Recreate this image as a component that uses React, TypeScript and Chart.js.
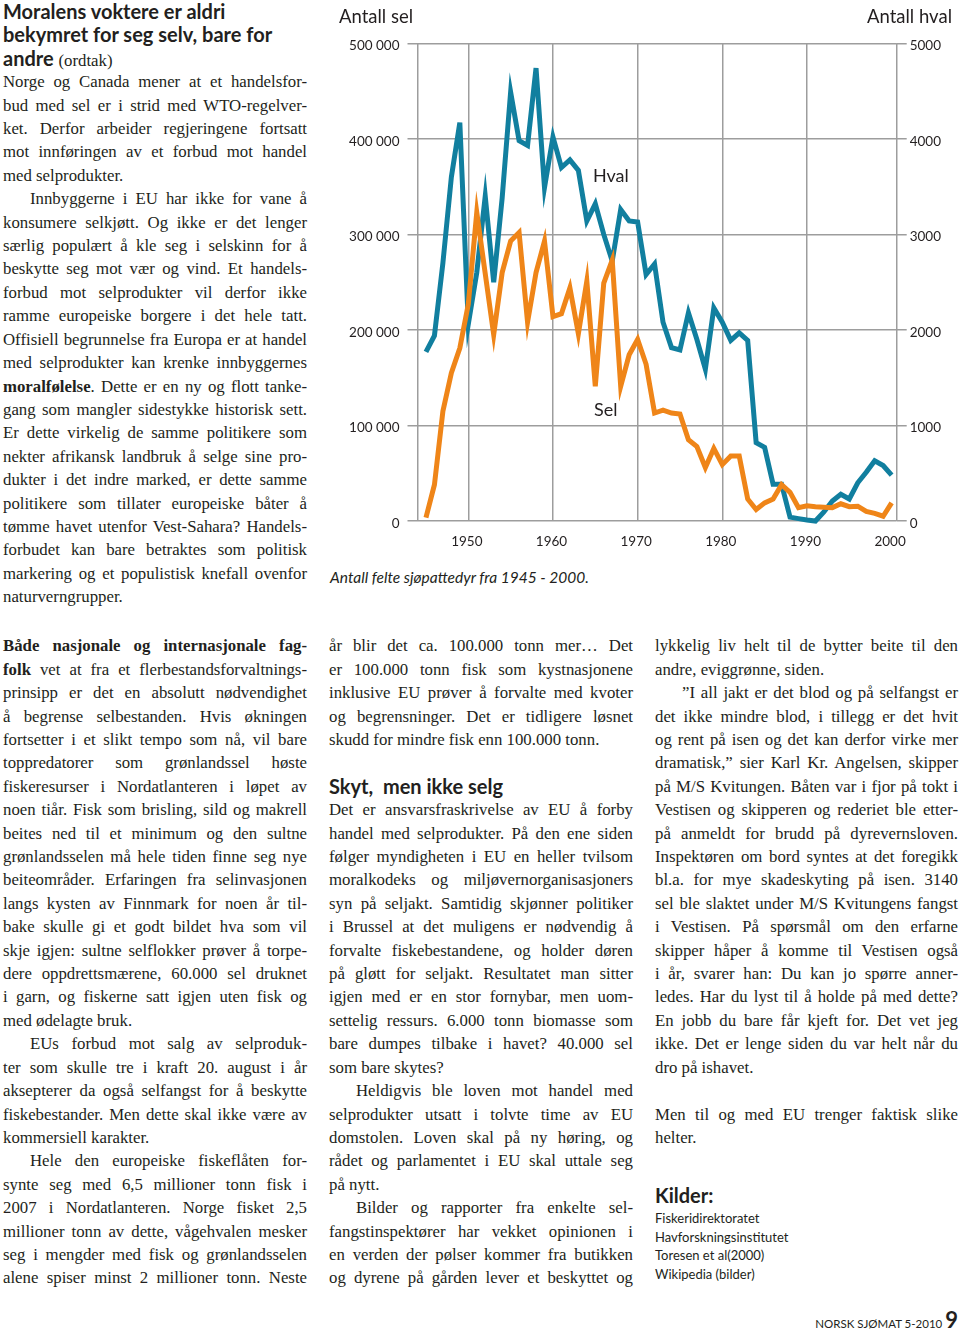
import React, { useEffect, useRef } from "react";
import { Chart, registerables } from "chart.js";

Chart.register(...registerables);

// ---------- chart data ----------
const years = [
  1945, 1946, 1947, 1948, 1949, 1950, 1951, 1952, 1953, 1954,
  1955, 1956, 1957, 1958, 1959, 1960, 1961, 1962, 1963, 1964,
  1965, 1966, 1967, 1968, 1969, 1970, 1971, 1972, 1973, 1974,
  1975, 1976, 1977, 1978, 1979, 1980, 1981, 1982, 1983, 1984,
  1985, 1986, 1987, 1988, 1989, 1990, 1991, 1992, 1993, 1994,
  1995, 1996, 1997, 1998, 1999, 2000,
];

// Antall sel (left axis)
const selValues = [
  3500, 38000, 115000, 155000, 181000, 227000, 323000, 259000, 195000, 260000,
  293000, 302000, 208000, 260000, 293000, 214000, 217000, 244000, 196000, 251000,
  141000, 249000, 273000, 141000, 174000, 190000, 164000, 113000, 116000, 113000,
  112000, 85000, 78000, 56000, 76000, 59000, 68000, 68000, 23000, 12000,
  19000, 23000, 38000, 30000, 14000, 16000, 15000, 14500, 14000, 18000,
  15000, 15500, 10000, 8000, 5000, 19000,
];

// Antall hval (right axis)
const hvalValues = [
  1770, 1940, 2700, 3600, 4170, 2060, 2600, 3400, 2500, 3380,
  4490, 3980, 3930, 4740, 3490, 4020, 3700, 3780, 3670, 3140,
  3320, 3000, 2720, 3260, 3140, 3130, 2580, 2690, 2080, 1815,
  1790, 2180, 1900, 1590, 2230, 2080, 1890, 1970, 1890, 820,
  770, 385, 385, 40, 25, 10, 0, 95, 210, 280,
  230, 400, 510, 630, 580, 480,
];

const xTickYears = [1950, 1960, 1970, 1980, 1990, 2000];
const selTicks = [0, 100000, 200000, 300000, 400000, 500000];
const hvalTicks = [0, 1000, 2000, 3000, 4000, 5000];
const X_MIN = 1944;
const X_MAX = 2000.6;

// ---------- styles ----------
const SERIF = '"Liberation Serif", "Times New Roman", serif';
const SANS = 'Lato, "Open Sans", sans-serif';
const INK = "#231f20";
const BLUE = "#117f9f";
const ORANGE = "#ef8518";
const GRID = "#9d9d9d";
const LH = 23.42;
const BODY_SIZE = 16.8;

// ---------- text ----------
const introLines = [
  "#Moralens voktere er aldri",
  "#bekymret for seg selv, bare for",
  "#andre %(ordtak)%|",
  "Norge og Canada mener at et handelsfor-",
  "bud med sel er i strid med WTO-regelver-",
  "ket. Derfor arbeider regjeringene fortsatt",
  "mot innføringen av et forbud mot handel",
  "med selprodukter.|",
  ">Innbyggerne i EU har ikke for vane å",
  "konsumere selkjøtt. Og ikke er det lenger",
  "særlig populært å kle seg i selskinn for å",
  "beskytte seg mot vær og vind. Et handels-",
  "forbud mot selprodukter vil derfor ikke",
  "ramme europeiske borgere i det hele tatt.",
  "Offisiell begrunnelse fra Europa er at handel",
  "med selprodukter kan krenke innbyggernes",
  "**moralfølelse**. Dette er en ny og flott tanke-",
  "gang som mangler sidestykke historisk sett.",
  "Er dette virkelig de samme politikere som",
  "nekter afrikansk landbruk å selge sine pro-",
  "dukter i det indre marked, er dette samme",
  "politikere som tillater europeiske båter å",
  "tømme havet utenfor Vest-Sahara? Handels-",
  "forbudet kan bare betraktes som politisk",
  "markering og et populistisk knefall ovenfor",
  "naturverngrupper.|",
];

const col1Lines = [
  "**Både nasjonale og internasjonale fag-**",
  "**folk** vet at fra et flerbestandsforvaltnings-",
  "prinsipp er det en absolutt nødvendighet",
  "å begrense selbestanden. Hvis økningen",
  "fortsetter i et slikt tempo som nå, vil bare",
  "toppredatorer som grønlandssel høste",
  "fiskeresurser i Nordatlanteren i løpet av",
  "noen tiår. Fisk som brisling, sild og makrell",
  "beites ned til et minimum og den sultne",
  "grønlandsselen må hele tiden finne seg nye",
  "beiteområder. Erfaringen fra selinvasjonen",
  "langs kysten av Finnmark for noen år til-",
  "bake skulle gi et godt bildet hva som vil",
  "skje igjen: sultne selflokker prøver å torpe-",
  "dere oppdrettsmærene, 60.000 sel druknet",
  "i garn, og fiskerne satt igjen uten fisk og",
  "med ødelagte bruk.|",
  ">EUs forbud mot salg av selproduk-",
  "ter som skulle tre i kraft 20. august i år",
  "aksepterer da også selfangst for å beskytte",
  "fiskebestander. Men dette skal ikke være av",
  "kommersiell karakter.|",
  ">Hele den europeiske fiskeflåten for-",
  "synte seg med 6,5 millioner tonn fisk i",
  "2007 i Nordatlanteren. Norge fisket 2,5",
  "millioner tonn av dette, vågehvalen mesker",
  "seg i mengder med fisk og grønlandsselen",
  "alene spiser minst 2 millioner tonn. Neste",
];

const col2Lines = [
  "år blir det ca. 100.000 tonn mer… Det",
  "er 100.000 tonn fisk som kystnasjonene",
  "inklusive EU prøver å forvalte med kvoter",
  "og begrensninger. Det er tidligere løsnet",
  "skudd for mindre fisk enn 100.000 tonn.|",
  "",
  "#Skyt,\u00a0 men ikke selg",
  "Det er ansvarsfraskrivelse av EU å forby",
  "handel med selprodukter. På den ene siden",
  "følger myndigheten i EU en heller tvilsom",
  "moralkodeks og miljøvernorganisasjoners",
  "syn på seljakt. Samtidig skjønner politiker",
  "i Brussel at det muligens er nødvendig å",
  "forvalte fiskebestandene, og holder døren",
  "på gløtt for seljakt. Resultatet man sitter",
  "igjen med er en stor fornybar, men uom-",
  "settelig ressurs. 6.000 tonn biomasse som",
  "bare dumpes tilbake i havet? 40.000 sel",
  "som bare skytes?|",
  ">Heldigvis ble loven mot handel med",
  "selprodukter utsatt i tolvte time av EU",
  "domstolen. Loven skal på ny høring, og",
  "rådet og parlamentet i EU skal uttale seg",
  "på nytt.|",
  ">Bilder og rapporter fra enkelte sel-",
  "fangstinspektører har vekket opinionen i",
  "en verden der pølser kommer fra butikken",
  "og dyrene på gården lever et beskyttet og",
];

const col3Lines = [
  "lykkelig liv helt til de bytter beite til den",
  "andre, eviggrønne, siden.|",
  ">”I all jakt er det blod og på selfangst er",
  "det ikke mindre blod, i tillegg er det hvit",
  "og rent på isen og det kan derfor virke mer",
  "dramatisk,” sier Karl Kr. Angelsen, skipper",
  "på M/S Kvitungen. Båten var i fjor på tokt i",
  "Vestisen og skipperen og rederiet ble etter-",
  "på anmeldt for brudd på dyrevernsloven.",
  "Inspektøren om bord syntes at det foregikk",
  "bl.a. for mye skadeskyting på isen. 3140",
  "sel ble slaktet under M/S Kvitungens fangst",
  "i Vestisen. På spørsmål om den erfarne",
  "skipper håper å komme til Vestisen også",
  "i år, svarer han: Du kan jo spørre anner-",
  "ledes. Har du lyst til å holde på med dette?",
  "En jobb du bare får kjeft for. Det vet jeg",
  "ikke. Det er lenge siden du var helt når du",
  "dro på ishavet.|",
  "",
  "Men til og med EU trenger faktisk slike",
  "helter.|",
];

const sources = [
  "Fiskeridirektoratet",
  "Havforskningsinstitutet",
  "Toresen et al(2000)",
  "Wikipedia (bilder)",
];

function renderSegments(s: string) {
  const parts = s.split(/(\*\*[^*]+\*\*|%[^%]+%)/).filter((p) => p !== "");
  return parts.map((p, i) => {
    if (p.startsWith("**")) return <b key={i}>{p.slice(2, -2)}</b>;
    if (p.startsWith("%"))
      return (
        <span key={i} style={{ fontFamily: SERIF, fontWeight: 400, fontSize: BODY_SIZE }}>
          {p.slice(1, -1)}
        </span>
      );
    return <React.Fragment key={i}>{p}</React.Fragment>;
  });
}

function TextColumn({ lines, left, top, width }: { lines: string[]; left: number; top: number; width: number }) {
  return (
    <div style={{ position: "absolute", left, top, width, color: INK }}>
      {lines.map((raw, i) => {
        let s = raw;
        let heading = false;
        let indent = false;
        let last = false;
        if (s.startsWith("#")) {
          heading = true;
          s = s.slice(1);
        }
        if (s.startsWith(">")) {
          indent = true;
          s = s.slice(1);
        }
        if (s.endsWith("|")) {
          last = true;
          s = s.slice(0, -1);
        }
        const justify = !heading && !last && s.length > 0;
        return (
          <div
            key={i}
            style={{
              height: LH,
              lineHeight: `${LH}px`,
              paddingLeft: indent ? 27 : 0,
              textAlign: justify ? "justify" : "left",
              textAlignLast: justify ? "justify" : "left",
              fontFamily: heading ? SANS : SERIF,
              fontWeight: heading ? 700 : 400,
              fontSize: heading ? 20 : BODY_SIZE,
              boxSizing: "border-box",
            }}
          >
            {s.length ? renderSegments(s) : "\u00a0"}
          </div>
        );
      })}
    </div>
  );
}

function SealChart() {
  const ref = useRef<HTMLCanvasElement>(null);
  useEffect(() => {
    if (!ref.current) return;
    const chart = new Chart(ref.current, {
      type: "line",
      data: {
        datasets: [
          {
            label: "Sel",
            data: years.map((y, i) => ({ x: y, y: selValues[i] })),
            yAxisID: "y",
            borderColor: ORANGE,
            borderWidth: 5,
            pointRadius: 0,
            tension: 0,
            fill: false,
            borderJoinStyle: "miter",
            clip: 10,
          },
          {
            label: "Hval",
            data: years.map((y, i) => ({ x: y, y: hvalValues[i] })),
            yAxisID: "y1",
            borderColor: BLUE,
            borderWidth: 5,
            pointRadius: 0,
            tension: 0,
            fill: false,
            borderJoinStyle: "miter",
            clip: 10,
          },
        ],
      },
      options: {
        responsive: false,
        maintainAspectRatio: false,
        animation: false,
        layout: { padding: { top: 43.3, left: 0, right: 0, bottom: 0 } },
        plugins: { legend: { display: false }, tooltip: { enabled: false } },
        scales: {
          x: {
            type: "linear",
            min: X_MIN,
            max: X_MAX,
            afterBuildTicks: (axis: any) => {
              axis.ticks = [X_MIN, ...xTickYears, X_MAX].map((v) => ({ value: v }));
            },
            afterFit: (axis: any) => {
              axis.height = 39;
            },
            ticks: {
              autoSkip: false,
              maxRotation: 0,
              padding: 13,
              labelOffset: -1.5,
              color: INK,
              font: { family: "Lato", size: 13.5 },
              callback: (v: any) => (xTickYears.includes(Number(v)) ? String(v) : ""),
            },
            grid: {
              color: (c: any) => (c.tick && c.tick.value === 2000 ? "rgba(0,0,0,0)" : GRID),
              lineWidth: 1.5,
              drawTicks: false,
            },
            border: { display: false },
          },
          y: {
            type: "linear",
            position: "left",
            min: 0,
            max: 500000,
            afterBuildTicks: (axis: any) => {
              axis.ticks = selTicks.map((v) => ({ value: v }));
            },
            afterFit: (axis: any) => {
              axis.width = 87.5;
            },
            ticks: {
              padding: 8,
              labelOffset: 2.5,
              color: INK,
              font: { family: "Lato", size: 13.5 },
              callback: (v: any) => (Number(v) === 0 ? "0" : `${Number(v) / 1000} 000`),
            },
            grid: { color: GRID, lineWidth: 1.5, drawTicks: true, tickLength: 10 },
            border: { display: false },
          },
          y1: {
            type: "linear",
            position: "right",
            min: 0,
            max: 5000,
            afterBuildTicks: (axis: any) => {
              axis.ticks = hvalTicks.map((v) => ({ value: v }));
            },
            afterFit: (axis: any) => {
              axis.width = 63.3;
            },
            ticks: {
              padding: 3,
              labelOffset: 2.5,
              color: INK,
              font: { family: "Lato", size: 13.5 },
              callback: (v: any) => String(v),
            },
            grid: { color: GRID, lineWidth: 1.5, drawTicks: true, tickLength: 10, drawOnChartArea: false },
            border: { display: false },
          },
        },
      },
    } as any);
    return () => chart.destroy();
  }, []);
  return (
    <canvas
      ref={ref}
      width={630}
      height={560}
      style={{ position: "absolute", left: 330, top: 0, width: 630, height: 560, display: "block" }}
    />
  );
}

export default function App() {
  const abs = (extra: React.CSSProperties): React.CSSProperties => ({
    position: "absolute",
    whiteSpace: "nowrap",
    lineHeight: 1,
    color: INK,
    ...extra,
  });
  return (
    <div
      style={{
        position: "absolute",
        left: 0,
        top: 0,
        width: 960,
        height: 1334,
        overflow: "hidden",
        background: "#ffffff",
      }}
    >
      <TextColumn lines={introLines} left={3} top={0} width={304} />

      <SealChart />
      <div style={abs({ left: 339, top: 7, fontFamily: SANS, fontSize: 18.5 })}>Antall sel</div>
      <div style={abs({ right: 8, top: 7, fontFamily: SANS, fontSize: 18.5 })}>Antall hval</div>
      <div style={abs({ left: 593, top: 166, fontFamily: SANS, fontSize: 18 })}>Hval</div>
      <div style={abs({ left: 594, top: 400, fontFamily: SANS, fontSize: 18 })}>Sel</div>
      <div style={abs({ left: 330, top: 570, fontFamily: SANS, fontSize: 15.5, fontStyle: "italic" })}>
        Antall felte sjøpattedyr fra 1945 - 2000.
      </div>

      <TextColumn lines={col1Lines} left={3} top={634.4} width={304} />
      <TextColumn lines={col2Lines} left={329} top={634.4} width={304} />
      <TextColumn lines={col3Lines} left={655} top={634.4} width={303} />

      <div style={abs({ left: 655, top: 1185, fontFamily: SANS, fontSize: 20, fontWeight: 700 })}>Kilder:</div>
      <div style={{ position: "absolute", left: 655, top: 1209, fontFamily: SANS, fontSize: 13, lineHeight: "18.7px", color: INK }}>
        {sources.map((s, i) => (
          <div key={i} style={{ whiteSpace: "nowrap" }}>
            {s}
          </div>
        ))}
      </div>

      <div
        style={{
          position: "absolute",
          right: 2,
          top: 1309,
          display: "flex",
          alignItems: "baseline",
          gap: 3,
          lineHeight: 1,
          color: INK,
          fontFamily: SANS,
          whiteSpace: "nowrap",
        }}
      >
        <span style={{ fontSize: 11.5 }}>NORSK SJØMAT 5-2010</span>
        <span style={{ fontSize: 22, fontWeight: 700 }}>9</span>
      </div>
    </div>
  );
}
